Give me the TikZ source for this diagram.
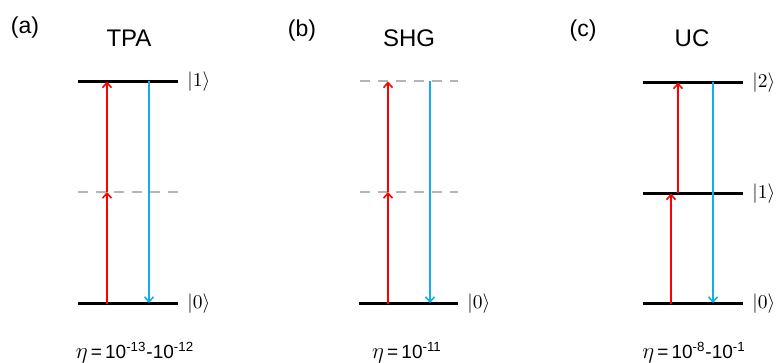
\documentclass[tikz,border=0pt]{standalone}
\usepackage{fontspec}
\setmainfont{Liberation Sans}
\usetikzlibrary{arrows.meta}
\definecolor{redarrow}{HTML}{FF0000}
\definecolor{bluearrow}{HTML}{12AEE8}
\definecolor{dashgray}{HTML}{B4B4B4}
\begin{document}
\begin{tikzpicture}[x=1pt,y=-1pt,
  level/.style={line width=2.6pt, black},
  virtual/.style={line width=2pt, dashgray, dash pattern=on 10pt off 8pt},
  absorb/.style={line width=2pt, redarrow, -{Straight Barb[length=5pt,width=9pt,line width=1.6pt]}},
  emit/.style={line width=2pt, bluearrow, -{Straight Barb[length=5pt,width=9pt,line width=1.6pt]}},
  statelabel/.style={anchor=west, inner sep=0pt, font=\fontsize{10}{12}\selectfont, scale=1.95, transform shape},
  panellabel/.style={inner sep=0pt, font=\fontsize{23}{25}\selectfont},
  titlelabel/.style={inner sep=0pt, font=\fontsize{24}{26}\selectfont},
  efflabel/.style={inner sep=0pt, font=\fontsize{10}{12}\selectfont, scale=1.9, transform shape}]
\useasboundingbox (0,0) rectangle (776,363);

% ---------- (a) TPA ----------
\node[panellabel] (pa) at (25,28) {(a)};
\node[titlelabel] (ta) at (129,38) {TPA};
\coordinate (a2l) at (78,81.5);  \coordinate (a2r) at (178,81.5);
\coordinate (avl) at (78,192);   \coordinate (avr) at (178,192);
\coordinate (a0l) at (78,303.5); \coordinate (a0r) at (178,303.5);
\draw[virtual] (avl) -- (avr);
\draw[level] (a2l) -- (a2r);
\draw[level] (a0l) -- (a0r);
\node[statelabel] (ka1) at ([xshift=9pt]a2r) {$|1\rangle$};
\node[statelabel] (ka0) at ([xshift=9pt]a0r) {$|0\rangle$};
\coordinate (ar0) at (107,303.5);
\coordinate (arv) at (107,192);
\coordinate (ar2) at (107,81.5);
\draw[absorb] (ar0) -- (arv);
\draw[absorb] (arv) -- (ar2);
\coordinate (ab2) at (149,81.5);
\coordinate (ab0) at (149,303);
\draw[emit] (ab2) -- (ab0);
\node[efflabel] (ea) at (135,353) {{\large$\eta$}\,=\,10\textsuperscript{-13}-10\textsuperscript{-12}};

% ---------- (b) SHG ----------
\node[panellabel] (pb) at (302,31) {(b)};
\node[titlelabel] (tb) at (409,38) {SHG};
\coordinate (b2l) at (360,81.5);  \coordinate (b2r) at (458,81.5);
\coordinate (bvl) at (360,192);   \coordinate (bvr) at (458,192);
\coordinate (b0l) at (359,303.5); \coordinate (b0r) at (458,303.5);
\draw[virtual] (b2l) -- (b2r);
\draw[virtual] (bvl) -- (bvr);
\draw[level] (b0l) -- (b0r);
\node[statelabel] (kb0) at ([xshift=9pt]b0r) {$|0\rangle$};
\coordinate (br0) at (388,303.5);
\coordinate (brv) at (388,192);
\coordinate (br2) at (388,81.5);
\draw[absorb] (br0) -- (brv);
\draw[absorb] (brv) -- (br2);
\coordinate (bb2) at (430,81.5);
\coordinate (bb0) at (430,303);
\draw[emit] (bb2) -- (bb0);
\node[efflabel] (eb) at (407,353) {{\large$\eta$}\,=\,10\textsuperscript{-11}};

% ---------- (c) UC ----------
\node[panellabel] (pc) at (583,31) {(c)};
\node[titlelabel] (tc) at (692,38) {UC};
\coordinate (c2l) at (643,82.5);  \coordinate (c2r) at (743,82.5);
\coordinate (c1l) at (643,193.5); \coordinate (c1r) at (743,193.5);
\coordinate (c0l) at (643,303.5); \coordinate (c0r) at (743,303.5);
\draw[level] (c2l) -- (c2r);
\draw[level] (c1l) -- (c1r);
\draw[level] (c0l) -- (c0r);
\node[statelabel] (kc2) at ([xshift=9pt]c2r) {$|2\rangle$};
\node[statelabel] (kc1) at ([xshift=9pt]c1r) {$|1\rangle$};
\node[statelabel] (kc0) at ([xshift=9pt]c0r) {$|0\rangle$};
\coordinate (cr0) at (671,303.5);
\coordinate (cr1) at (671,193.5);
\coordinate (cu1) at (678,193.5);
\coordinate (cu2) at (678,82.5);
\draw[absorb] (cr0) -- (cr1);
\draw[absorb] (cu1) -- (cu2);
\coordinate (cb2) at (713,82.5);
\coordinate (cb0) at (713,303);
\draw[emit] (cb2) -- (cb0);
\node[efflabel] (ec) at (694,353) {{\large$\eta$}\,=\,10\textsuperscript{-8}-10\textsuperscript{-1}};
\end{tikzpicture}
\end{document}
